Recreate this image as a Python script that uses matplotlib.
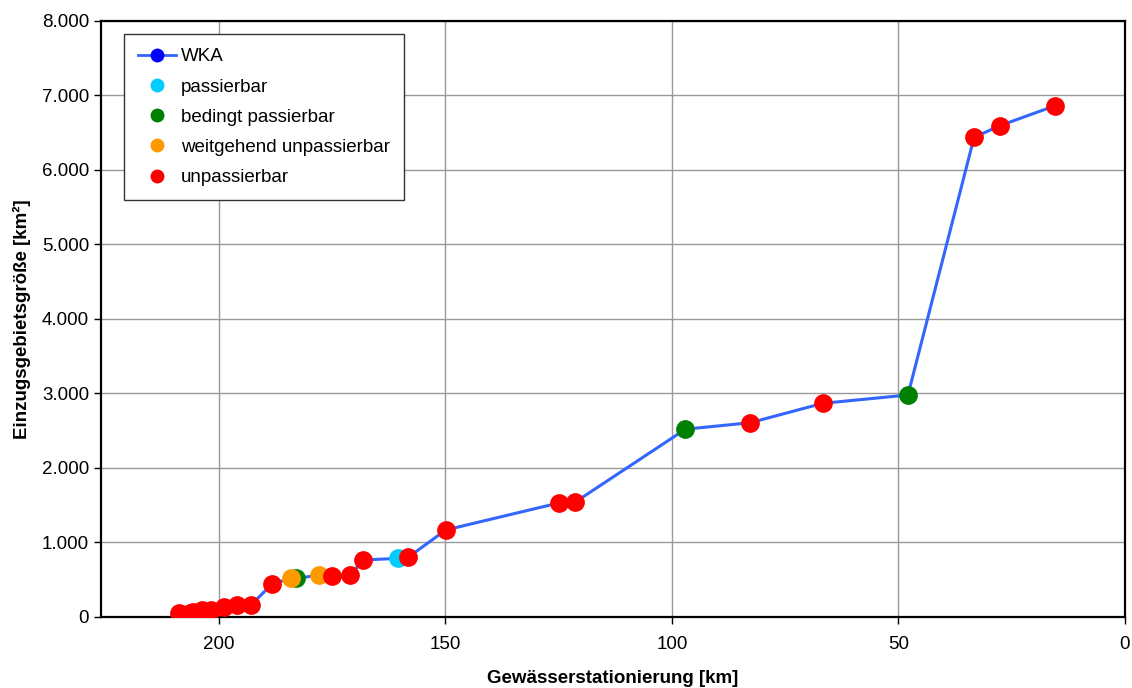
import matplotlib.pyplot as plt
from matplotlib.lines import Line2D
from matplotlib.ticker import FuncFormatter

plt.rcParams['font.family'] = ['Liberation Sans', 'DejaVu Sans']

# Gewaesserstationierung [km] und Einzugsgebietsgroesse [km2] je WKA
km = [208.8, 206.4, 205.7, 203.7, 201.8, 198.9, 196.0, 192.9, 188.2, 183.0, 184.1,
      177.9, 175.1, 171.0, 168.1, 160.4, 158.2, 149.9, 125.0, 121.3, 97.0, 82.7,
      66.7, 47.9, 33.3, 27.6, 15.4]
ezg = [54, 54, 67, 94, 94, 134, 161, 161, 445, 519, 519,
       560, 554, 564, 765, 787, 801, 1168, 1530, 1544, 2521, 2608,
       2868, 2980, 6438, 6595, 6863]
klasse = ['u', 'u', 'u', 'u', 'u', 'u', 'u', 'u', 'u', 'b', 'w',
          'w', 'u', 'u', 'u', 'p', 'u', 'u', 'u', 'u', 'b', 'u',
          'u', 'b', 'u', 'u', 'u']

farben = {'p': '#00CCFF', 'b': '#008000', 'w': '#FF9900', 'u': '#FF0000'}
namen = {'p': 'passierbar', 'b': 'bedingt passierbar',
         'w': 'weitgehend unpassierbar', 'u': 'unpassierbar'}

fig = plt.figure(figsize=(11.32, 6.88), dpi=100)
ax = fig.add_axes([0.0892, 0.1032, 0.9046, 0.8663])

# Linie in Reihenfolge der Stationierung
order = sorted(range(len(km)), key=lambda i: -km[i])
ax.plot([km[i] for i in order], [ezg[i] for i in order], color='#3366FF', lw=2.2, zorder=2)
for i in range(len(km)):
    ax.plot(km[i], ezg[i], 'o', ms=13.5, color=farben[klasse[i]], mec='none', zorder=3)

ax.set_xlim(226, 0)
ax.set_ylim(0, 8000)
ax.set_xticks([200, 150, 100, 50, 0])
ax.set_yticks(range(0, 8001, 1000))
ax.yaxis.set_major_formatter(FuncFormatter(lambda v, p: f'{int(v):,}'.replace(',', '.')))
ax.grid(True, color='#999999', lw=1)
ax.set_axisbelow(True)
for s in ax.spines.values():
    s.set_linewidth(1.6)
ax.tick_params(axis='both', labelsize=13.5, length=5, width=1, direction='out')
ax.tick_params(axis='x', pad=9)
ax.set_xlabel('Gewässerstationierung [km]', fontsize=13.5, fontweight='bold', labelpad=12)
ax.set_ylabel('Einzugsgebietsgröße [km²]', fontsize=13.5, fontweight='bold', labelpad=8)

handles = [Line2D([], [], color='#3366FF', lw=2, marker='o', ms=10, mfc='#0000FF', mec='none', label='WKA')]
for k in ['p', 'b', 'w', 'u']:
    handles.append(Line2D([], [], ls='none', marker='o', ms=10, color=farben[k], mec='none', label=namen[k]))
leg = ax.legend(handles=handles, loc='upper left', bbox_to_anchor=(0.0225, 0.978), borderaxespad=0,
                fontsize=13.5, frameon=True, fancybox=False, edgecolor='#333333', framealpha=1,
                handlelength=2.0, handletextpad=0.3, labelspacing=0.7, borderpad=0.75)
leg.get_frame().set_linewidth(1)

fig.savefig('out.png', dpi=100)
